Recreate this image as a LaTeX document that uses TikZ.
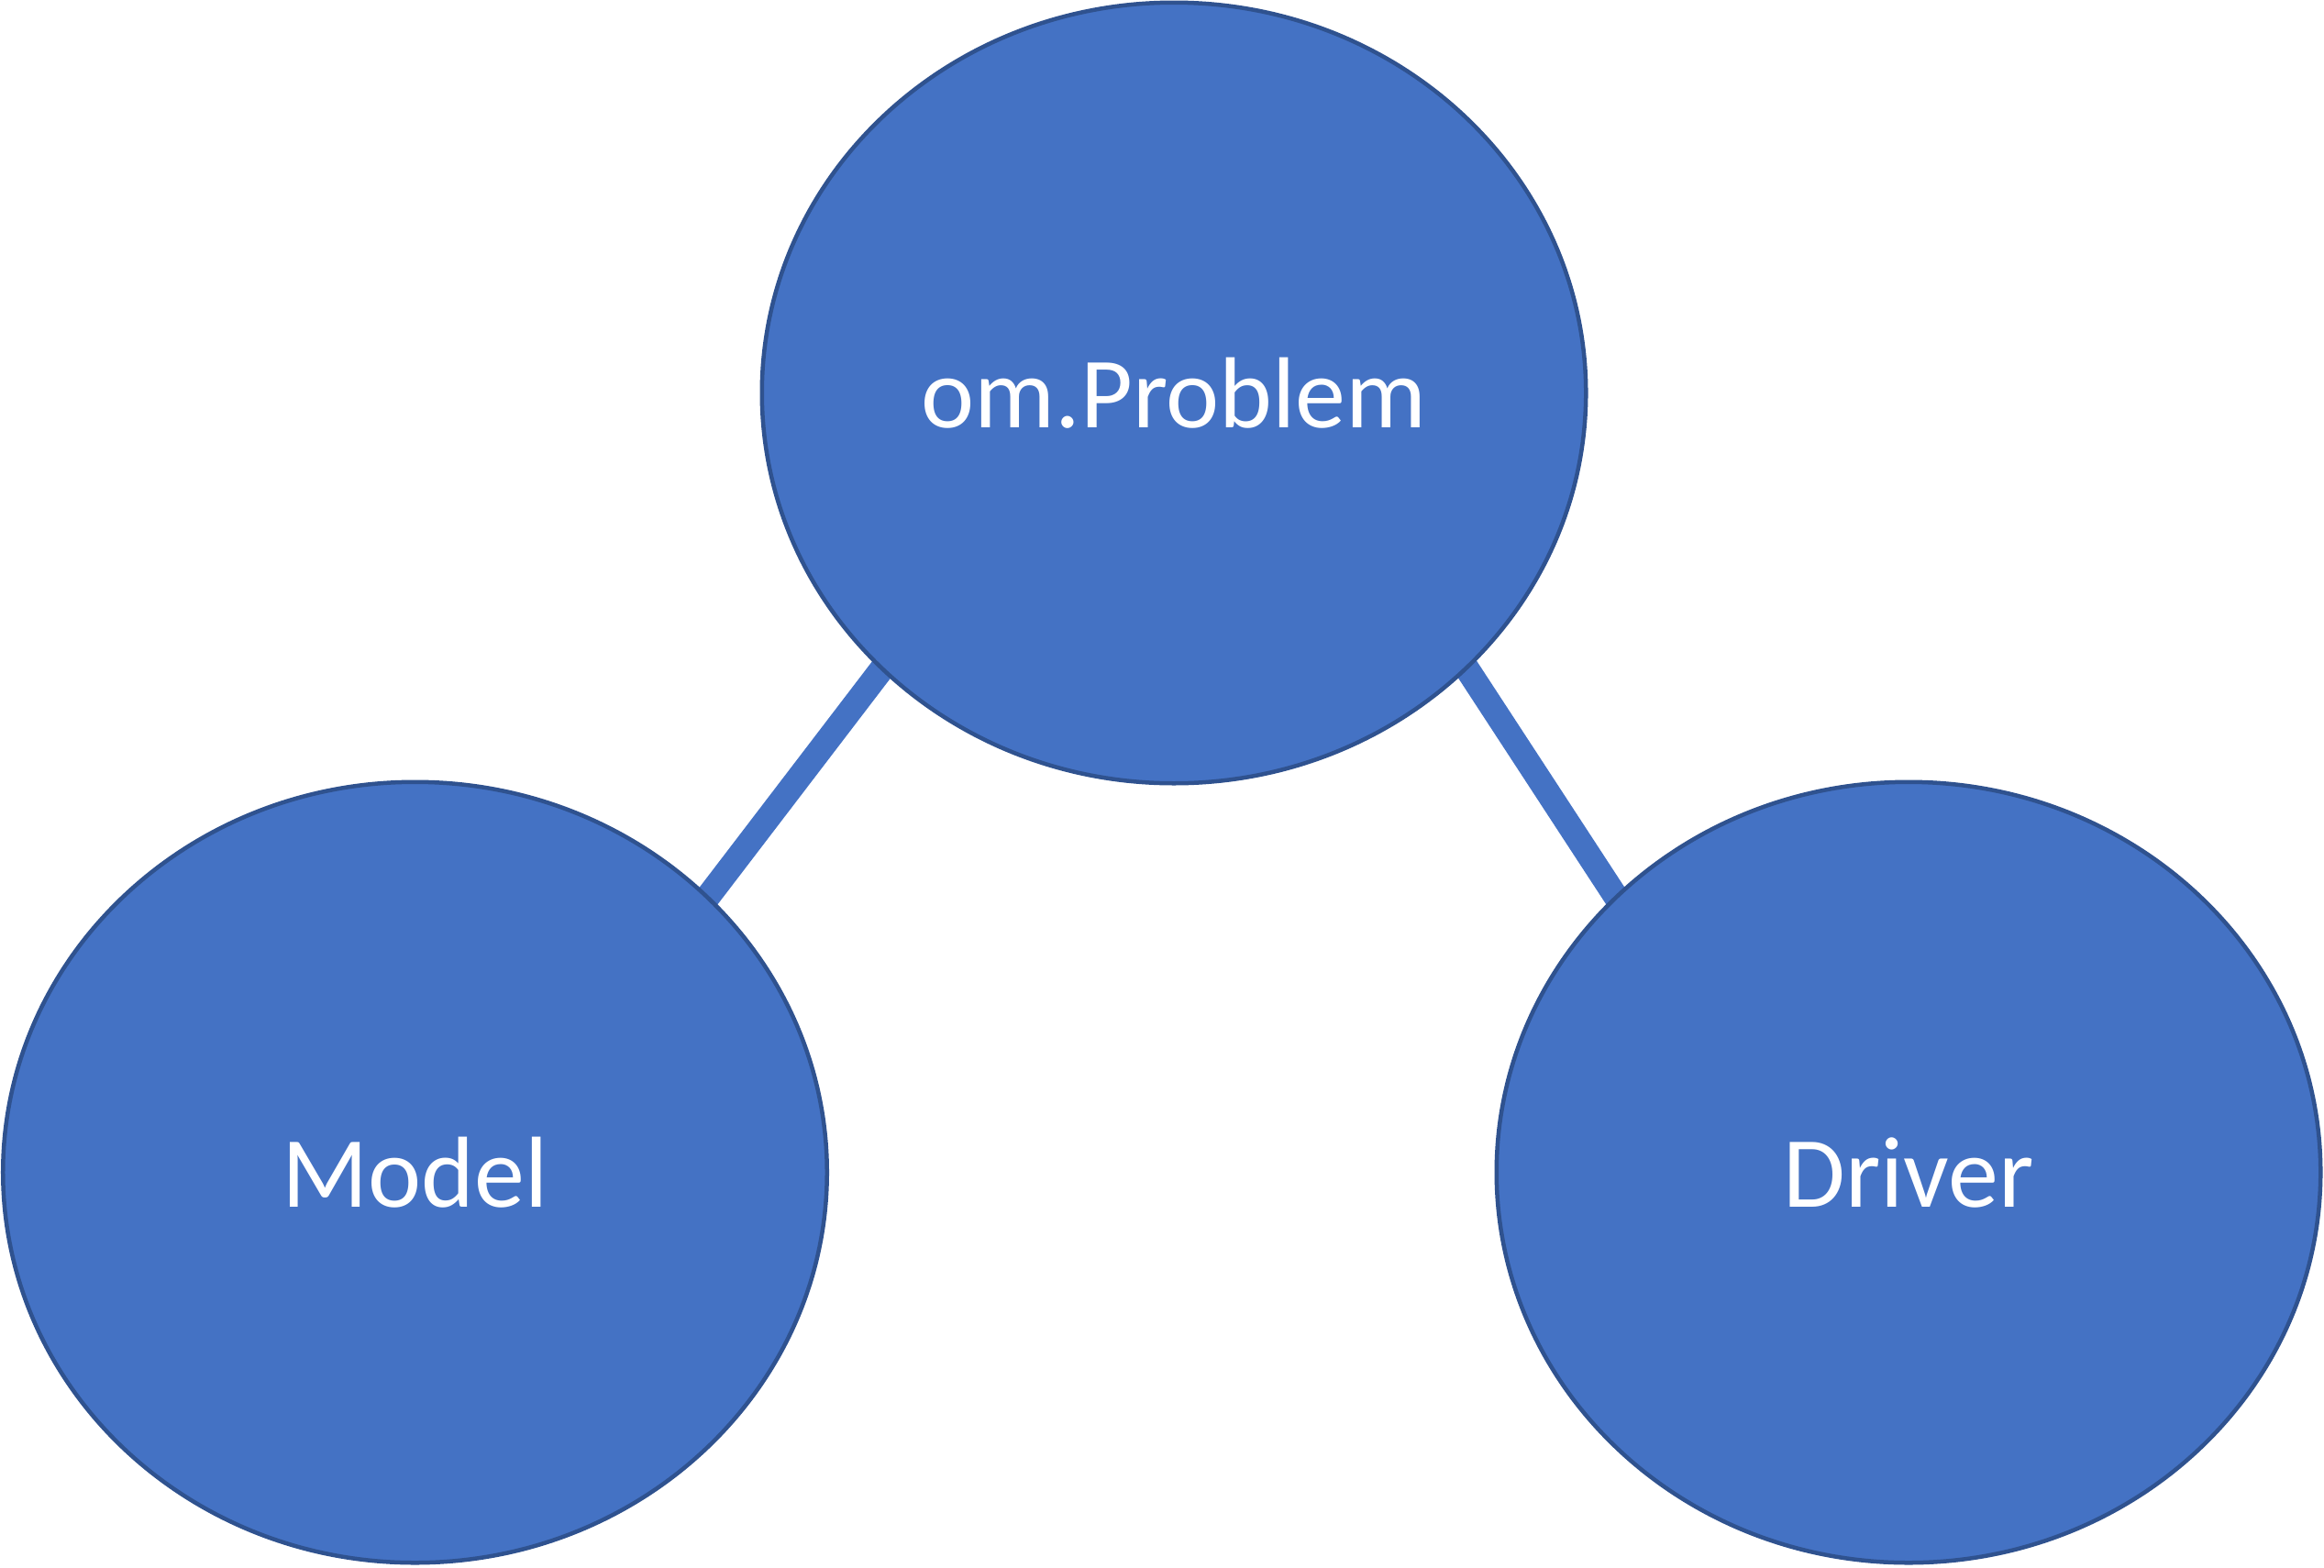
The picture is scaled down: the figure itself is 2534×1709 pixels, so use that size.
\documentclass[tikz,border=0pt]{standalone}
\usepackage{fontspec}
\setmainfont{Carlito}
\usetikzlibrary{shapes.geometric,backgrounds,calc}
\definecolor{ofill}{HTML}{4472C4}
\definecolor{oline}{HTML}{2F528F}
\begin{document}
\begin{tikzpicture}[x=0.01cm,y=-0.01cm,
  bubble/.style={ellipse, draw=oline, fill=ofill, line width=0.045cm,
    minimum width=8.98cm, minimum height=8.51cm, inner sep=0pt,
    text=white, font=\fontsize{31.3}{37}\selectfont},
  link/.style={draw=ofill, line width=0.27cm}]
\useasboundingbox (0,0) rectangle (2534,1709);
\node[bubble] (prob) at (1280,428.5) {om.Problem};
\node[bubble] (model) at (452.5,1278.5) {Model};
\node[bubble] (driver) at (2081,1278.5) {Driver};
\begin{scope}[on background layer]
\draw[link] ($(prob.center)+(-300,277)$) -- ($(model.center)+(302.5,-278.5)$);
\draw[link] ($(prob.center)+(304,277)$) -- ($(driver.center)+(-304,-277.5)$);
\end{scope}
\end{tikzpicture}
\end{document}
